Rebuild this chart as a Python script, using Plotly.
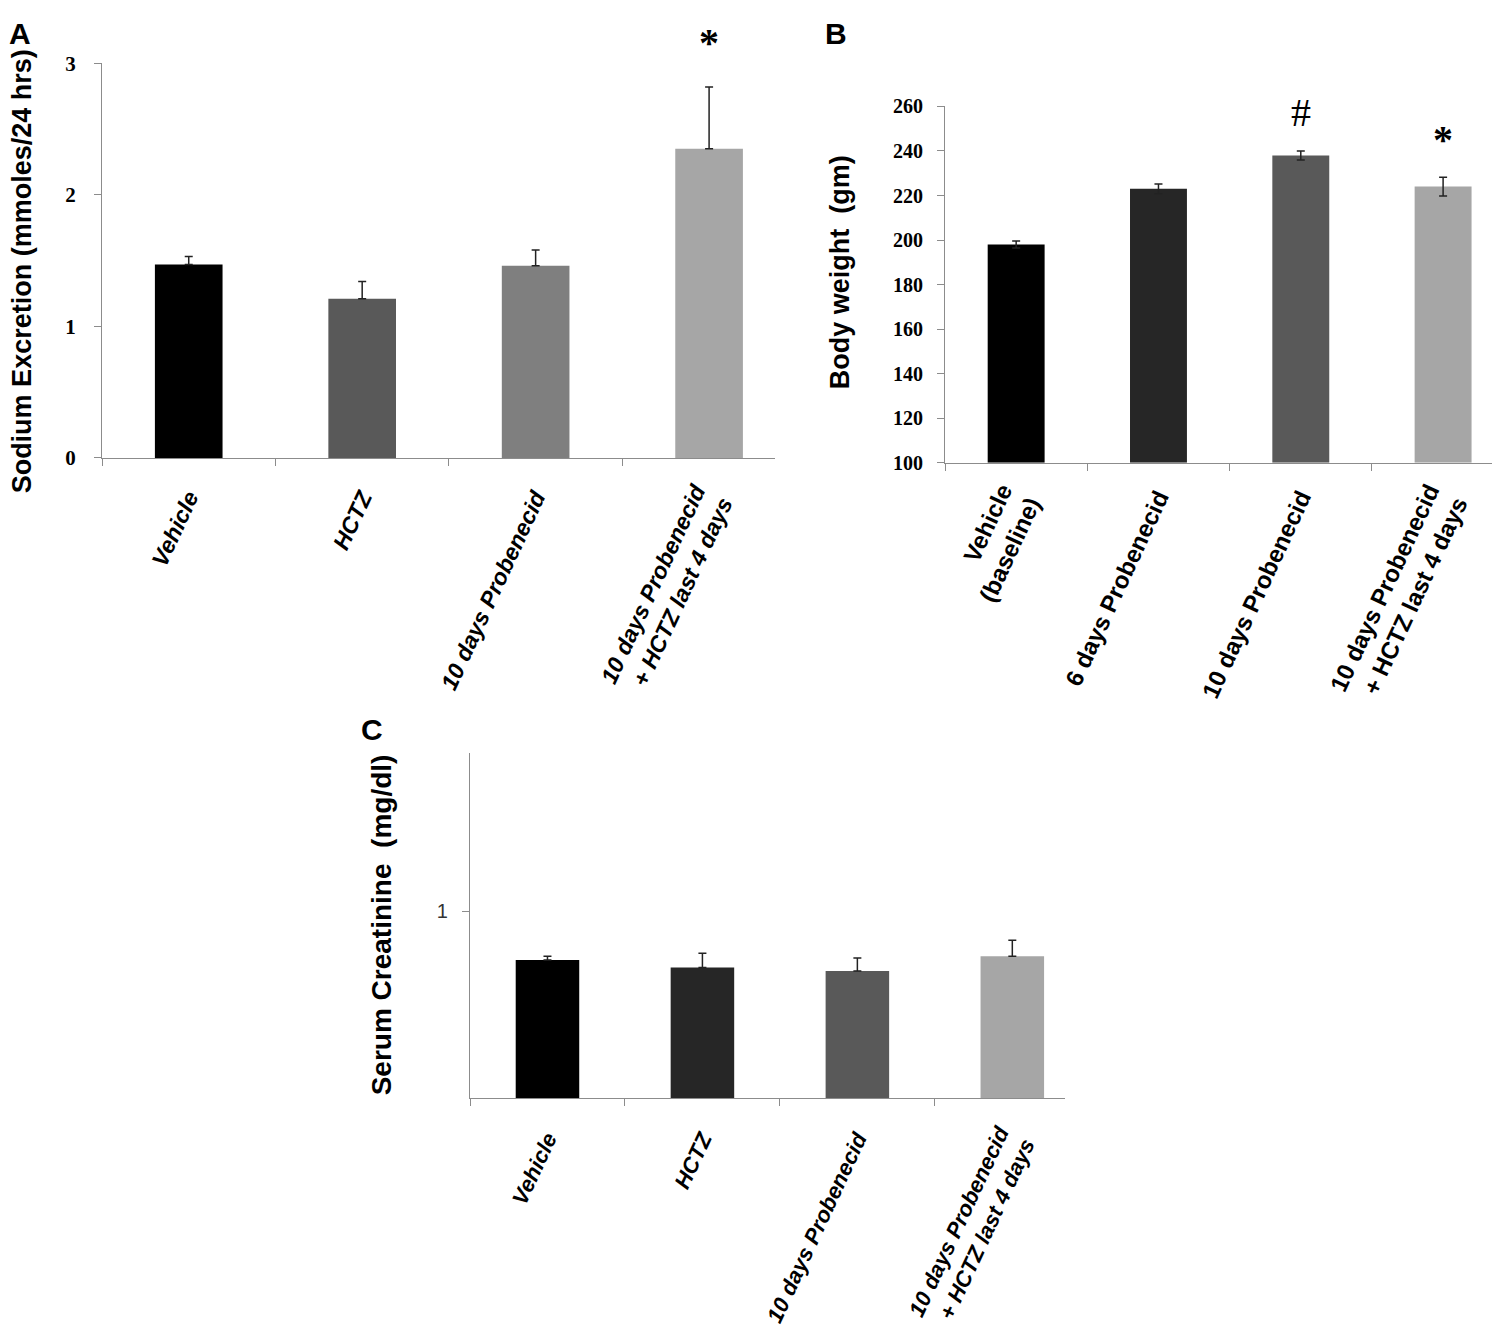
import plotly.graph_objects as go

# ---------------- data ----------------
cats_a = ["Vehicle", "HCTZ", "10 days Probenecid", "10 days Probenecid<br>+ HCTZ last 4 days"]
sodium = [1.47, 1.21, 1.46, 2.35]
sodium_err = [0.06, 0.13, 0.12, 0.47]
colors_a = ["#000000", "#595959", "#7f7f7f", "#a6a6a6"]

cats_b = ["Vehicle<br>(baseline)", "6 days Probenecid", "10 days Probenecid", "10 days Probenecid<br>+ HCTZ last 4 days"]
weight = [198, 223, 238, 224]
weight_err = [1.6, 2.2, 2.0, 4.2]
colors_b = ["#000000", "#262626", "#595959", "#a6a6a6"]

cats_c = ["Vehicle", "HCTZ", "10 days Probenecid", "10 days Probenecid<br>+ HCTZ last 4 days"]
creatinine = [0.74, 0.70, 0.68, 0.76]
creatinine_err = [0.02, 0.075, 0.07, 0.085]
colors_c = ["#000000", "#262626", "#595959", "#a6a6a6"]

W, H = 1500, 1328


def px(x):
    return x / W


def py(y):
    return 1 - y / H


fig = go.Figure()

# ---------------- bars ----------------
fig.add_trace(go.Bar(
    x=cats_a, y=sodium, marker=dict(color=colors_a, line=dict(width=0)), width=0.39,
    error_y=dict(type="data", array=sodium_err, arrayminus=[0] * 4, symmetric=False,
                 color="#222222", thickness=1.5, width=4),
    xaxis="x", yaxis="y", showlegend=False))

# body weight axis starts at 100, so bars are drawn from base 100
fig.add_trace(go.Bar(
    x=cats_b, y=[v - 100 for v in weight], base=100,
    marker=dict(color=colors_b, line=dict(width=0)), width=0.40,
    error_y=dict(type="data", array=weight_err, color="#222222", thickness=1.5, width=4),
    xaxis="x2", yaxis="y2", showlegend=False))

fig.add_trace(go.Bar(
    x=cats_c, y=creatinine, marker=dict(color=colors_c, line=dict(width=0)), width=0.41,
    error_y=dict(type="data", array=creatinine_err, arrayminus=[0] * 4, symmetric=False,
                 color="#222222", thickness=1.5, width=4),
    xaxis="x3", yaxis="y3", showlegend=False))

axis_line = dict(showline=True, linecolor="#8c8c8c", linewidth=1.2, showgrid=False,
                 zeroline=False, ticks="outside", tickcolor="#8c8c8c", ticklen=7)

fig.update_layout(
    width=W, height=H,
    margin=dict(l=0, r=0, t=0, b=0),
    paper_bgcolor="white", plot_bgcolor="white",
    font=dict(family="Liberation Sans"),
    xaxis=dict(domain=[px(94), px(767)], range=[-0.5, 3.38], anchor="y",
               tickson="boundaries", tickangle=-65, ticklabelstandoff=16,
               tickvals=cats_a, ticktext=["<b><i>%s</i></b>" % c for c in cats_a],
               tickfont=dict(family="Liberation Sans", size=23, color="black"), **axis_line),
    yaxis=dict(domain=[py(446), py(44)], range=[0, 3], anchor="x",
               tickvals=[0, 1, 2, 3], ticktext=["<b>%d</b>" % v for v in [0, 1, 2, 3]],
               tickfont=dict(family="Liberation Serif", size=21, color="black"),
               ticklabelstandoff=14, **axis_line),
    xaxis2=dict(domain=[px(937), px(1500)], range=[-0.5, 3.456], anchor="y2",
                tickson="boundaries", tickangle=-65, ticklabelstandoff=10,
                tickvals=cats_b, ticktext=["<b>%s</b>" % c for c in cats_b],
                tickfont=dict(family="Liberation Sans", size=24, color="black"), **axis_line),
    yaxis2=dict(domain=[py(451), py(88)], range=[100, 260], anchor="x2",
                tickvals=list(range(100, 261, 20)),
                ticktext=["<b>%d</b>" % v for v in range(100, 261, 20)],
                tickfont=dict(family="Liberation Serif", size=20, color="black"),
                ticklabelstandoff=10, **axis_line),
    xaxis3=dict(domain=[px(462), px(1057)], range=[-0.5, 3.34], anchor="y3",
                tickson="boundaries", tickangle=-65, ticklabelstandoff=18,
                tickvals=cats_c, ticktext=["<b><i>%s</i></b>" % c for c in cats_c],
                tickfont=dict(family="Liberation Sans", size=22, color="black"), **axis_line),
    yaxis3=dict(domain=[py(1098), py(746)], range=[0, 1.85], anchor="x3",
                tickvals=[1], ticktext=["1"],
                tickfont=dict(family="Liberation Sans", size=20, color="#333333"),
                ticklabelstandoff=10, **axis_line),
)

# ---------------- titles, panel letters, significance marks ----------------
ann = []
ann.append(dict(x=px(14), y=py(256), text="<b>Sodium Excretion (mmoles/24 hrs)</b>",
                textangle=-90, font=dict(family="Liberation Sans", size=27, color="black")))
ann.append(dict(x=px(832), y=py(257), text="<b>Body weight  (gm)</b>",
                textangle=-90, font=dict(family="Liberation Sans", size=27, color="black")))
ann.append(dict(x=px(373), y=py(922), text="<b>Serum Creatinine  (mg/dl)</b>",
                textangle=-90, font=dict(family="Liberation Sans", size=28, color="black")))

letter_font = dict(family="Liberation Sans", size=30, color="black")
ann.append(dict(x=px(12), y=py(0), yanchor="top", yshift=5, text="<b>A</b>", font=letter_font))
ann.append(dict(x=px(828), y=py(0), yanchor="top", yshift=5, text="<b>B</b>", font=letter_font))
ann.append(dict(x=px(364), y=py(723), text="<b>C</b>", font=letter_font))

for a in ann:
    a.setdefault("yanchor", "middle")
    a.update(xref="paper", yref="paper", showarrow=False, xanchor="center")
    fig.add_annotation(**a)

mark_font = dict(family="Liberation Serif", size=40, color="black")
fig.add_annotation(x=cats_a[3], y=sodium[3] + sodium_err[3], xref="x", yref="y",
                   text="<b>*</b>", showarrow=False, yanchor="middle", yshift=44, font=mark_font)
fig.add_annotation(x=cats_b[2], y=weight[2] + weight_err[2], xref="x2", yref="y2",
                   text="#", showarrow=False, yanchor="middle", yshift=38, font=mark_font)
fig.add_annotation(x=cats_b[3], y=weight[3] + weight_err[3], xref="x2", yref="y2",
                   text="<b>*</b>", showarrow=False, yanchor="middle", yshift=38, font=mark_font)

fig.write_html("out.html")
